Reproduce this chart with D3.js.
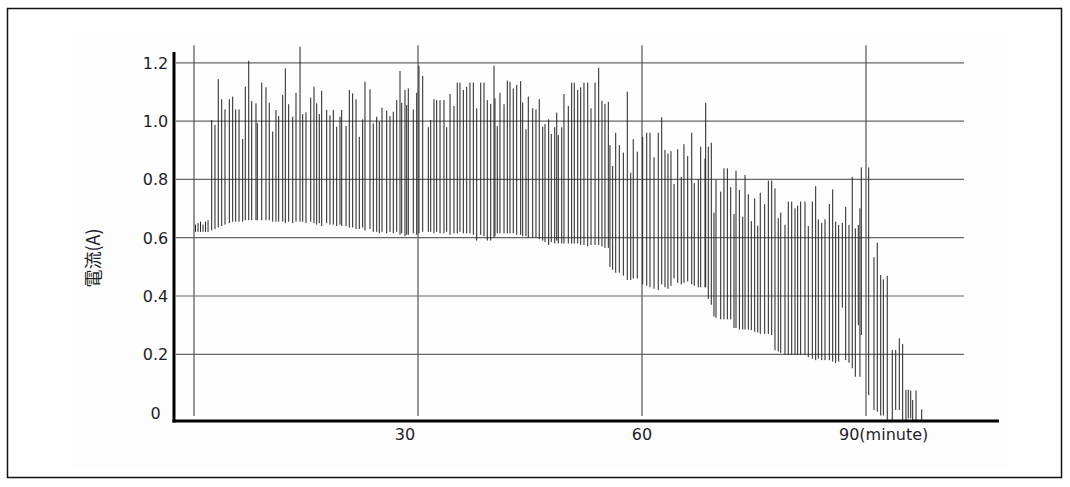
<!DOCTYPE html>
<html>
<head>
<meta charset="utf-8">
<script src="https://cdnjs.cloudflare.com/ajax/libs/d3/7.8.5/d3.min.js"></script>
<style>
  body { margin: 0; background: #fff; }
  svg { display: block; }
</style>
</head>
<body>
<script>
// spike readings: time (minute), peak current and base current (A)
var spikeMinute = [
  0.20,0.54,0.87,1.21,1.54,1.88,2.37,2.81,3.25,3.71,
  4.15,4.73,5.18,5.58,6.03,6.52,6.87,7.33,7.73,8.30,
  8.48,9.07,9.64,10.08,10.54,10.98,11.34,11.88,12.23,12.68,
  13.22,13.66,14.20,14.56,15.00,15.63,16.07,16.43,16.78,17.10,
  17.77,18.21,18.66,19.11,19.55,19.78,20.36,20.80,21.25,21.70,
  22.14,22.59,22.90,23.57,24.01,24.47,24.82,25.18,25.81,26.25,
  26.69,27.15,27.59,27.82,28.26,28.49,28.70,29.37,29.83,30.13,
  30.63,31.38,31.70,32.14,32.50,32.95,33.48,33.84,34.29,34.82,
  35.26,35.62,36.07,36.52,36.96,37.41,37.86,38.40,38.84,39.28,
  39.74,40.18,40.31,40.62,40.98,41.52,41.96,42.32,42.76,43.22,
  43.75,44.02,44.46,44.77,45.36,45.80,46.24,46.70,47.01,47.50,
  47.85,48.31,48.58,48.79,49.25,49.55,50.13,50.58,50.93,51.39,
  51.79,52.23,52.73,53.17,53.71,54.20,54.64,55.04,55.49,55.71,
  56.07,56.48,56.96,57.50,58.03,58.49,58.83,59.37,60.09,60.63,
  61.07,61.61,62.18,62.64,63.08,63.48,63.88,64.29,64.78,65.26,
  65.62,66.12,66.66,67.00,67.54,67.86,68.44,68.53,68.88,69.28,
  69.64,69.91,70.54,70.98,71.43,71.88,72.32,72.59,73.04,73.49,
  73.80,74.24,74.64,75.09,75.50,75.84,76.43,76.92,77.37,77.81,
  78.25,78.58,79.15,79.59,80.05,80.49,80.85,81.25,81.83,82.27,
  82.81,83.26,83.61,84.07,84.51,85.09,85.54,85.94,86.34,86.83,
  87.28,87.72,88.16,88.57,88.97,89.19,89.37,90.36,91.07,91.51,
  91.97,92.32,92.85,93.52,93.98,94.46,94.91,95.35,95.66,95.99,
  96.25,96.70,97.46
];
var spikeHigh = [
  0.645,0.65,0.655,0.645,0.655,0.66,1.004,0.987,1.144,1.075,
  1.04,1.075,1.084,1.04,1.04,0.939,1.118,1.207,1.069,1.061,
  0.993,1.133,1.116,1.063,0.964,1.038,1.017,1.09,1.181,1.058,
  1.015,1.097,1.255,1.024,1.03,1.08,1.118,1.061,1.024,1.104,
  1.038,1.02,1.038,0.981,1.015,1.038,0.983,1.107,1.095,1.075,
  0.946,1.006,1.135,1.109,0.992,1.015,0.998,1.046,1.036,1.017,
  1.032,1.072,1.172,1.063,1.107,1.055,1.112,1.04,1.097,1.19,
  1.155,0.979,1.004,1.075,1.072,1.072,1.072,0.979,1.093,1.052,
  1.132,1.132,1.107,1.118,1.132,1.132,1.044,1.132,1.132,1.072,
  1.059,1.19,1.078,0.983,1.097,1.058,1.139,1.135,1.112,1.124,
  1.137,1.064,0.972,1.084,1.044,1.04,1.075,0.981,0.99,1.006,
  0.956,0.979,1.029,0.952,0.979,1.093,1.052,1.132,1.132,1.107,
  1.116,1.132,1.132,1.044,1.132,1.183,1.07,1.059,1.066,0.918,
  0.846,0.96,0.918,0.892,1.101,0.823,0.938,0.895,0.946,0.96,
  0.96,0.876,0.96,1.013,0.901,0.889,0.897,0.784,0.903,0.809,
  0.921,0.88,0.96,0.787,0.8,0.912,0.872,1.063,0.912,0.926,
  0.686,0.798,0.758,0.838,0.838,0.773,0.681,0.83,0.764,0.672,
  0.815,0.749,0.657,0.735,0.641,0.754,0.715,0.796,0.796,0.769,
  0.667,0.686,0.644,0.724,0.724,0.701,0.71,0.724,0.724,0.64,
  0.724,0.777,0.663,0.651,0.663,0.716,0.766,0.655,0.644,0.651,
  0.706,0.644,0.809,0.632,0.644,0.701,0.841,0.841,0.533,0.583,
  0.472,0.457,0.469,0.215,0.215,0.255,0.235,0.078,0.078,0.076,
  0.043,0.076,0.011
];
var spikeLow = [
  0.62,0.62,0.62,0.62,0.62,0.62,0.625,0.63,0.635,0.64,
  0.645,0.65,0.655,0.655,0.655,0.655,0.66,0.66,0.66,0.66,
  0.66,0.66,0.66,0.66,0.655,0.655,0.655,0.655,0.65,0.655,
  0.65,0.655,0.655,0.655,0.65,0.655,0.65,0.645,0.65,0.64,
  0.65,0.645,0.645,0.64,0.645,0.64,0.64,0.635,0.635,0.63,
  0.63,0.635,0.625,0.63,0.62,0.62,0.615,0.62,0.615,0.62,
  0.615,0.62,0.61,0.615,0.605,0.61,0.61,0.615,0.61,0.615,
  0.62,0.62,0.62,0.615,0.62,0.615,0.615,0.62,0.61,0.615,
  0.615,0.62,0.615,0.615,0.615,0.61,0.59,0.61,0.605,0.59,
  0.59,0.6,0.605,0.615,0.615,0.615,0.615,0.615,0.615,0.61,
  0.61,0.605,0.605,0.6,0.6,0.6,0.595,0.59,0.585,0.575,
  0.585,0.58,0.59,0.58,0.58,0.58,0.58,0.58,0.58,0.58,
  0.575,0.575,0.57,0.575,0.575,0.575,0.57,0.565,0.565,0.5,
  0.49,0.48,0.48,0.47,0.455,0.455,0.46,0.46,0.44,0.435,
  0.43,0.425,0.42,0.44,0.43,0.425,0.435,0.46,0.445,0.44,
  0.445,0.45,0.44,0.435,0.43,0.43,0.43,0.43,0.39,0.37,
  0.33,0.325,0.32,0.32,0.32,0.32,0.29,0.29,0.285,0.285,
  0.285,0.285,0.283,0.277,0.275,0.27,0.27,0.27,0.266,0.214,
  0.21,0.205,0.198,0.198,0.198,0.198,0.198,0.198,0.198,0.19,
  0.185,0.18,0.185,0.18,0.18,0.18,0.175,0.17,0.175,0.36,
  0.18,0.171,0.152,0.123,0.3,0.123,0.266,0.06,0.009,0.003,
  -0.01,-0.01,-0.03,-0.03,0.009,0.009,-0.03,-0.03,-0.02,-0.02,
  -0.03,-0.03,-0.03
];

var yTicks = [0, 0.2, 0.4, 0.6, 0.8, 1.0, 1.2];
var yTickLabels = ["0", "0.2", "0.4", "0.6", "0.8", "1.0", "1.2"];
var xGrid = [0, 30, 60, 90];
var xTicks = [30, 60, 90];
var xTickLabels = ["30", "60", "90(minute)"];
var yTitle = "電流(A)";

var width = 1070;
var height = 487;

var svg = d3.select("body").append("svg")
  .attr("width", width)
  .attr("height", height);

var x = d3.scaleLinear().domain([0, 90]).range([194, 866]);
var y = d3.scaleLinear().domain([0, 1.2]).range([412.6, 62.8]);

// faint plot panel
svg.append("rect")
  .attr("x", 73)
  .attr("y", 32)
  .attr("width", 935)
  .attr("height", 436)
  .attr("fill", "#fdfdfd");

// outer frame
svg.append("rect")
  .attr("x", 7.5)
  .attr("y", 8.5)
  .attr("width", 1054)
  .attr("height", 469)
  .attr("fill", "none")
  .attr("stroke", "#111")
  .attr("stroke-width", 1.5);

// horizontal grid
svg.selectAll(".hgrid")
  .data(yTicks.filter(function(d){ return d > 0; }))
  .enter()
  .append("line")
  .attr("x1", 176)
  .attr("x2", 964)
  .attr("y1", function(d){ return y(d); })
  .attr("y2", function(d){ return y(d); })
  .attr("stroke", "#666")
  .attr("stroke-width", 1.2);

// vertical grid
svg.selectAll(".vgrid")
  .data(xGrid)
  .enter()
  .append("line")
  .attr("x1", function(d){ return x(d); })
  .attr("x2", function(d){ return x(d); })
  .attr("y1", y(1.26))
  .attr("y2", y(-0.012))
  .attr("stroke", "#555")
  .attr("stroke-width", 1.2);

// spikes
var spikes = spikeMinute.map(function(m, i){
  return { m: m, hi: spikeHigh[i], lo: spikeLow[i] };
});

svg.selectAll(".spike")
  .data(spikes)
  .enter()
  .append("line")
  .attr("x1", function(d){ return x(d.m); })
  .attr("x2", function(d){ return x(d.m); })
  .attr("y1", function(d){ return y(d.lo); })
  .attr("y2", function(d){ return y(d.hi); })
  .attr("stroke", "#222")
  .attr("stroke-width", 1);

// axes
svg.append("line")
  .attr("x1", 174).attr("x2", 174)
  .attr("y1", 52).attr("y2", 422.5)
  .attr("stroke", "#000")
  .attr("stroke-width", 3);

svg.append("line")
  .attr("x1", 172.5).attr("x2", 999)
  .attr("y1", 421).attr("y2", 421)
  .attr("stroke", "#000")
  .attr("stroke-width", 3);

// y tick labels
svg.selectAll(".ylab")
  .data(yTicks)
  .enter()
  .append("text")
  .text(function(d, i){ return yTickLabels[i]; })
  .attr("x", 155.5)
  .attr("y", function(d){ return y(d) + 6; })
  .attr("text-anchor", "middle")
  .attr("font-family", "DejaVu Sans, sans-serif")
  .attr("font-size", "16px")
  .attr("fill", "#1e1e2a");

// x tick labels
var xLabelShift = [-13, 0, -27];
svg.selectAll(".xlab")
  .data(xTicks)
  .enter()
  .append("text")
  .text(function(d, i){ return xTickLabels[i]; })
  .attr("x", function(d, i){ return x(d) + xLabelShift[i]; })
  .attr("y", 440)
  .attr("text-anchor", function(d, i){ return i == 2 ? "start" : "middle"; })
  .attr("font-family", "DejaVu Sans, sans-serif")
  .attr("font-size", "16px")
  .attr("fill", "#1e1e2a");

// y title
svg.append("text")
  .text(yTitle)
  .attr("transform", "translate(100,258) rotate(-90)")
  .attr("text-anchor", "middle")
  .attr("font-family", "Noto Sans CJK JP, sans-serif")
  .attr("font-size", "18px")
  .attr("fill", "#1e1e2a");
</script>
</body>
</html>
